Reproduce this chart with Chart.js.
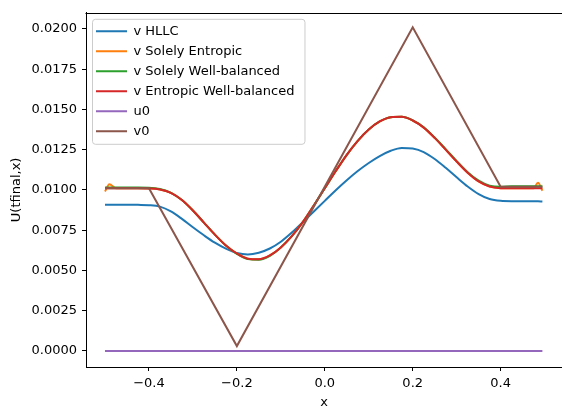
<!DOCTYPE html>
<html>
<head>
<meta charset="utf-8">
<script src="https://cdn.jsdelivr.net/npm/chart.js@4.4.1/dist/chart.umd.min.js"></script>
<style>
  html, body { margin: 0; padding: 0; background: #fff; overflow: hidden; }
  canvas { display: block; }
</style>
</head>
<body>
<canvas id="c" width="562" height="410"></canvas>
<script>
// Sample positions on the grid
const xs = [-0.5, -0.49, -0.475, -0.45, -0.425, -0.4, -0.375, -0.35, -0.325, -0.3,
  -0.275, -0.25, -0.225, -0.2, -0.175, -0.15, -0.125, -0.1, -0.075, -0.05,
  -0.025, 0, 0.025, 0.05, 0.075, 0.1, 0.125, 0.15, 0.175, 0.2,
  0.225, 0.25, 0.275, 0.3, 0.325, 0.35, 0.375, 0.4, 0.425, 0.45,
  0.475, 0.485, 0.495];

const vHLLC = [0.00907, 0.00907, 0.00907, 0.00908, 0.00907, 0.00905, 0.00896, 0.00866, 0.00820, 0.00768,
  0.00718, 0.00672, 0.00635, 0.00608, 0.00599, 0.00610, 0.00636, 0.00678, 0.00735, 0.00800,
  0.00866, 0.00932, 0.00998, 0.01060, 0.01117, 0.01167, 0.01210, 0.01243, 0.01261, 0.01257,
  0.01235, 0.01192, 0.01137, 0.01078, 0.01021, 0.00974, 0.00943, 0.00932, 0.00930, 0.00930,
  0.00929, 0.00929, 0.00928];

const vEntropic = [0.00990, 0.01035, 0.01010, 0.01010, 0.01010, 0.01009, 0.01003, 0.00982, 0.00937, 0.00872,
  0.00797, 0.00722, 0.00655, 0.00605, 0.00573, 0.00569, 0.00593, 0.00643, 0.00713, 0.00800,
  0.00903, 0.01010, 0.01117, 0.01218, 0.01305, 0.01375, 0.01425, 0.01451, 0.01454, 0.01431,
  0.01387, 0.01323, 0.01250, 0.01176, 0.01107, 0.01053, 0.01021, 0.01011, 0.01010, 0.01010,
  0.01010, 0.01045, 0.00995];

const vWellBalanced = [0.01015, 0.01015, 0.01015, 0.01015, 0.01015, 0.01014, 0.01005, 0.00982, 0.00937, 0.00872,
  0.00797, 0.00722, 0.00655, 0.00603, 0.00570, 0.00566, 0.00590, 0.00643, 0.00713, 0.00800,
  0.00903, 0.01010, 0.01117, 0.01218, 0.01305, 0.01375, 0.01425, 0.01451, 0.01454, 0.01432,
  0.01389, 0.01325, 0.01253, 0.01179, 0.01110, 0.01057, 0.01026, 0.01019, 0.01022, 0.01022,
  0.01022, 0.01022, 0.01022];

const vEntropicWB = [0.01010, 0.01010, 0.01010, 0.01010, 0.01010, 0.01009, 0.01003, 0.00982, 0.00937, 0.00872,
  0.00797, 0.00722, 0.00655, 0.00605, 0.00573, 0.00569, 0.00593, 0.00643, 0.00713, 0.00800,
  0.00903, 0.01010, 0.01117, 0.01218, 0.01305, 0.01375, 0.01425, 0.01451, 0.01454, 0.01431,
  0.01387, 0.01323, 0.01250, 0.01176, 0.01107, 0.01053, 0.01021, 0.01011, 0.01010, 0.01010,
  0.01010, 0.01010, 0.01010];

// Initial states
const u0X = [-0.5, 0.495];
const u0 = [0, 0];
const v0X = [-0.5, -0.4, -0.2, 0.2, 0.4, 0.495];
const v0 = [0.0101, 0.0101, 0.0003, 0.0201, 0.0102, 0.0102];

const xTicks = [-0.4, -0.2, 0.0, 0.2, 0.4];
const yTicks = [0, 0.0025, 0.005, 0.0075, 0.01, 0.0125, 0.015, 0.0175, 0.02];

const pts = (xv, yv) => xv.map((x, i) => ({ x: x, y: yv[i] }));

Chart.defaults.font.family = "'DejaVu Sans', sans-serif";
Chart.defaults.font.size = 13;
Chart.defaults.color = '#000';

function series(label, xv, yv, color, order, smooth) {
  return {
    label: label,
    data: pts(xv, yv),
    borderColor: color,
    backgroundColor: color,
    borderWidth: 2,
    pointRadius: 0,
    pointHoverRadius: 0,
    fill: false,
    order: order,
    tension: 0,
    cubicInterpolationMode: smooth ? 'monotone' : 'default'
  };
}

// Rounded legend frame plus the top spine
const frame = {
  id: 'frame',
  afterLayout(chart) {
    const a = chart.chartArea;
    const lg = chart.legend;
    lg.left = a.left + 3;
    lg.top = a.top + 5;
    lg.right = a.right;
    lg.bottom = a.bottom;
  },
  beforeDraw(chart) {
    const lg = chart.legend;
    const hb = lg.legendHitBoxes;
    if (!hb || !hb.length) return;
    const ctx = chart.ctx;
    let right = 0;
    hb.forEach(h => { right = Math.max(right, h.left + h.width); });
    const x0 = hb[0].left - 4, y0 = hb[0].top - 6;
    const last = hb[hb.length - 1];
    const x1 = right + 10, y1 = last.top + last.height + 6;
    ctx.save();
    ctx.beginPath();
    ctx.roundRect(x0 + 0.5, y0 + 0.5, x1 - x0, y1 - y0, 3);
    ctx.fillStyle = 'rgba(255,255,255,0.8)';
    ctx.fill();
    ctx.strokeStyle = '#cccccc';
    ctx.lineWidth = 1;
    ctx.stroke();
    ctx.restore();
  },
  afterDraw(chart) {
    const a = chart.chartArea;
    const ctx = chart.ctx;
    ctx.save();
    ctx.strokeStyle = '#000';
    ctx.lineWidth = 1;
    ctx.beginPath();
    ctx.moveTo(Math.round(a.left) - 0.5, Math.round(a.top) + 0.5);
    ctx.lineTo(chart.width, Math.round(a.top) + 0.5);
    ctx.stroke();
    ctx.restore();
  }
};

new Chart(document.getElementById('c'), {
  type: 'line',
  data: {
    datasets: [
      series('v HLLC', xs, vHLLC, '#1f77b4', 6, true),
      series('v Solely Entropic', xs, vEntropic, '#ff7f0e', 5, true),
      series('v Solely Well-balanced', xs, vWellBalanced, '#2ca02c', 4, true),
      series('v Entropic Well-balanced', xs, vEntropicWB, '#d62728', 3, true),
      series('u0', u0X, u0, '#9467bd', 2, false),
      series('v0', v0X, v0, '#8c564b', 1, false)
    ]
  },
  options: {
    responsive: false,
    animation: false,
    devicePixelRatio: 1,
    layout: { padding: { left: 0, top: 11, right: 0, bottom: 0 } },
    plugins: {
      tooltip: { enabled: false },
      legend: {
        position: 'chartArea',
        align: 'start',
        labels: {
          boxWidth: 31,
          boxHeight: 0,
          padding: 7,
          color: '#000',
          font: { size: 13 },
          sort: (a, b) => a.datasetIndex - b.datasetIndex
        }
      }
    },
    scales: {
      x: {
        type: 'linear',
        min: -0.5432,
        max: 0.5396,
        afterFit: s => { s.height = 43; },
        afterBuildTicks: s => { s.ticks = xTicks.map(v => ({ value: v })); },
        grid: { drawOnChartArea: false, drawTicks: true, tickLength: 4, tickColor: '#000', tickWidth: 1 },
        border: { display: true, color: '#000', width: 1 },
        ticks: {
          padding: 5,
          autoSkip: false,
          maxRotation: 0,
          color: '#000',
          callback: v => (v < 0 ? '\u2212' : '') + Math.abs(v).toFixed(1)
        },
        title: { display: true, text: 'x', color: '#000', font: { size: 13 }, padding: { top: 0, bottom: 0 } }
      },
      y: {
        type: 'linear',
        min: -0.001,
        max: 0.021,
        afterFit: s => { s.width = 86; },
        afterBuildTicks: s => { s.ticks = yTicks.map(v => ({ value: v })); },
        grid: { drawOnChartArea: false, drawTicks: true, tickLength: 4, tickColor: '#000', tickWidth: 1 },
        border: { display: true, color: '#000', width: 1 },
        ticks: {
          padding: 5,
          color: '#000',
          callback: v => v.toFixed(4)
        },
        title: { display: true, text: 'U(tfinal,x)', color: '#000', font: { size: 13 }, padding: { top: 9, bottom: 0 } }
      }
    }
  },
  plugins: [frame]
});
</script>
</body>
</html>
